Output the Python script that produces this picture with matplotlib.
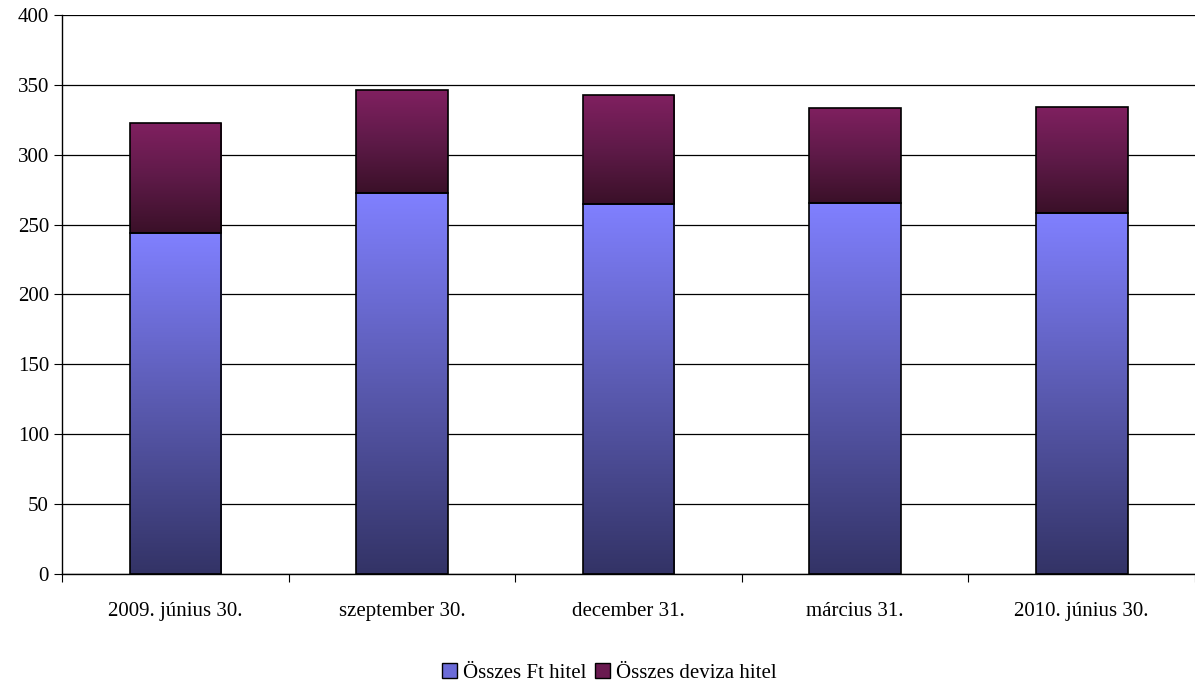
import numpy as np
import matplotlib.pyplot as plt
from matplotlib.colors import LinearSegmentedColormap
from matplotlib.patches import Patch

plt.rcParams['font.family'] = ['Liberation Serif', 'DejaVu Serif']

# --- data ---
categories = ['2009. június 30.', 'szeptember 30.', 'december 31.', 'március 31.', '2010. június 30.']
ft_hitel = [244, 272.5, 265, 265.5, 258]
deviza_hitel = [79, 73.5, 77.5, 68, 76.5]
series_names = ['Összes Ft hitel', 'Összes deviza hitel']

blue_cmap = LinearSegmentedColormap.from_list('blue', ['#333366', '#5a5ab0', '#8080ff'])
red_cmap = LinearSegmentedColormap.from_list('red', ['#3a1028', '#5e1a48', '#802060'])

fig = plt.figure(figsize=(11.95, 6.84), dpi=100)
ax = fig.add_axes([0.052, 0.161, 0.948, 0.817])

x = np.arange(len(categories))
width = 0.405
grad = np.linspace(0, 1, 256).reshape(-1, 1)


def gradient_bar(ax, xc, bottom, height, cmap):
    """Draws one bar with vertical gradient, clipped to the rectangle."""
    rect = ax.bar(xc, height, width, bottom=bottom, facecolor='none',
                  edgecolor='black', linewidth=1.2, zorder=3)[0]
    im = ax.imshow(grad, cmap=cmap, aspect='auto', origin='lower',
                   extent=[xc - width / 2, xc + width / 2, bottom, bottom + height],
                   zorder=2)
    im.set_clip_path(rect)


for i in x:
    gradient_bar(ax, i, 0, ft_hitel[i], blue_cmap)
    gradient_bar(ax, i, ft_hitel[i], deviza_hitel[i], red_cmap)

ax.set_xlim(-0.5, len(categories) - 0.5)
ax.set_ylim(0, 400)
ax.set_yticks(range(0, 401, 50))
ax.yaxis.grid(True, color='black', linewidth=0.9, zorder=0)
ax.set_axisbelow(True)

ax.set_xticks(np.arange(-0.5, len(categories), 1))
ax.set_xticklabels([])
ax.set_xticks(x, minor=True)
ax.set_xticklabels(categories, minor=True, fontsize=15)
ax.tick_params(axis='x', which='minor', length=0, pad=20)
ax.tick_params(axis='x', which='major', length=6, direction='out')
ax.tick_params(axis='y', labelsize=15, length=6, direction='out')

for s in ['top', 'right']:
    ax.spines[s].set_visible(False)
ax.spines['left'].set_linewidth(1)
ax.spines['bottom'].set_linewidth(1)

handles = [Patch(facecolor='#6b6bd8', edgecolor='black'),
           Patch(facecolor='#6a1a50', edgecolor='black')]
fig.legend(handles, series_names, loc='center', bbox_to_anchor=(0.51, 0.016),
           ncol=2, frameon=False, fontsize=15, handlelength=0.7, handleheight=0.7,
           handletextpad=0.3, columnspacing=0.4)

fig.savefig('out.png', dpi=100)
